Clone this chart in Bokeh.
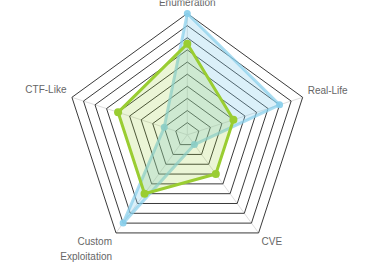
import numpy as np
from bokeh.plotting import figure
from bokeh.models import Range1d
from bokeh.core.properties import value
from bokeh.embed import file_html
from bokeh.resources import INLINE

categories = ["Enumeration", "Real-Life", "CVE", "Custom Exploitation", "CTF-Like"]
label_texts = ["Enumeration", "Real-Life", "CVE", "Custom\nExploitation", "CTF-Like"]
blue_values = [10, 8, 1, 9, 2]
green_values = [7.5, 4, 4, 6, 6]
ring_levels = [1, 2, 3, 4, 5, 6, 7, 8, 9, 10]
max_value = 10

W, H = 373, 273
cx, cy = 186.8, 134.3      # centre in pixels
R = 121.3                  # outer radius in pixels
s = R / max_value          # pixels per unit

p = figure(width=W, height=H, output_backend="svg", toolbar_location=None,
           x_range=Range1d(-cx / s, (W - cx) / s),
           y_range=Range1d(-(H - cy) / s, cy / s),
           min_border=0, min_border_left=0, min_border_right=0,
           min_border_top=0, min_border_bottom=0)
p.axis.visible = False
p.grid.visible = False
p.outline_line_color = None
p.background_fill_color = "white"
p.border_fill_color = "white"

n = len(categories)
theta = np.arange(n) * 2 * np.pi / n

def to_xy(vals):
    v = np.asarray(vals, dtype=float)
    return list(v * np.sin(theta)), list(v * np.cos(theta))

# spokes
sx, sy = to_xy([max_value] * n)
p.multi_line([[0, x] for x in sx], [[0, y] for y in sy], line_color="#dddddd", line_width=1)

# rings
rx, ry = [], []
for lv in ring_levels:
    x, y = to_xy([lv] * n)
    rx.append(x + [x[0]])
    ry.append(y + [y[0]])
p.multi_line(rx, ry, line_color="#3a3a3a", line_width=1)

# blue dataset
bx, by = to_xy(blue_values)
p.patch(bx, by, fill_color=(135, 206, 235), fill_alpha=0.3, line_color=None)
p.line(bx + [bx[0]], by + [by[0]], line_color=(135, 206, 235), line_alpha=0.7, line_width=3)
p.scatter(bx, by, size=7, fill_color=(135, 206, 235), fill_alpha=0.9, line_color=None)

# green dataset
gx, gy = to_xy(green_values)
p.patch(gx, gy, fill_color=(154, 205, 50), fill_alpha=0.2, line_color=None)
p.line(gx + [gx[0]], gy + [gy[0]], line_color="#9ACD32", line_width=3)
p.scatter(gx, gy, size=8, fill_color="#9ACD32", line_color=None)

# labels
lx, ly = to_xy([max_value] * n)
aligns = ["center", "left", "left", "right", "right"]
xoffs = [0, 5, 3, -4, -5.5]
yoffs = [-16.5, -12.5, 3, 3, -13]
for i in range(n):
    p.text(x=[lx[i]], y=[ly[i]], text=[label_texts[i]], text_align=aligns[i],
           text_baseline="top", x_offset=xoffs[i], y_offset=yoffs[i],
           text_font=value("Liberation Sans"), text_font_size="10px",
           text_color="#666666", text_line_height=1.4)

open("out.html", "w").write(file_html(p, INLINE))
